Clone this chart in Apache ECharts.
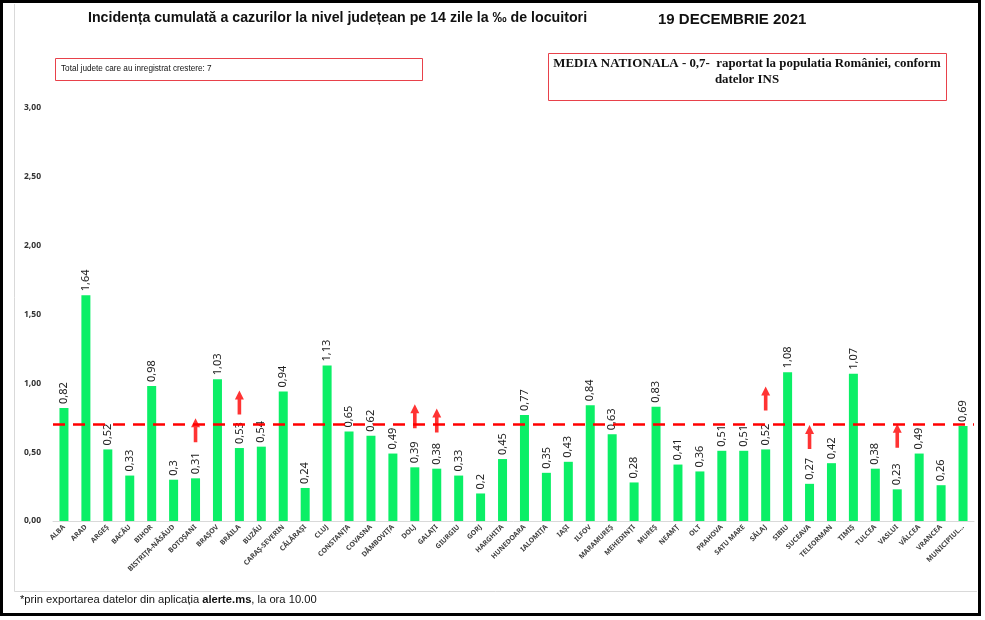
<!DOCTYPE html>
<html>
<head>
<meta charset="utf-8">
<script src="https://cdn.jsdelivr.net/npm/echarts@6/dist/echarts.min.js"></script>
<style>html,body{margin:0;padding:0;background:#fff;}#c{width:985px;height:620px;}</style>
</head>
<body>
<div id="c"></div>
<script>
const counties = ['ALBA','ARAD','ARGEȘ','BACĂU','BIHOR','BISTRIȚA-NĂSĂUD','BOTOȘANI','BRAȘOV','BRĂILA','BUZĂU','CARAȘ-SEVERIN','CĂLĂRAȘI','CLUJ','CONSTANȚA','COVASNA','DÂMBOVIȚA','DOLJ','GALAȚI','GIURGIU','GORJ','HARGHITA','HUNEDOARA','IALOMIȚA','IAȘI','ILFOV','MARAMUREȘ','MEHEDINȚI','MUREȘ','NEAMȚ','OLT','PRAHOVA','SATU MARE','SĂLAJ','SIBIU','SUCEAVA','TELEORMAN','TIMIȘ','TULCEA','VASLUI','VÂLCEA','VRANCEA','MUNICIPIUL...'];
const incidence = [0.82,1.64,0.52,0.33,0.98,0.3,0.31,1.03,0.53,0.54,0.94,0.24,1.13,0.65,0.62,0.49,0.39,0.38,0.33,0.2,0.45,0.77,0.35,0.43,0.84,0.63,0.28,0.83,0.41,0.36,0.51,0.51,0.52,1.08,0.27,0.42,1.07,0.38,0.23,0.49,0.26,0.69];
const nationalAverage = 0.7;
const arrowCounties = ['BOTOȘANI','BRĂILA','DOLJ','GALAȚI','SĂLAJ','SUCEAVA','VASLUI'];
const arrowLevels = [0.66,0.86,0.76,0.73,0.89,0.61,0.62];
const yTicks = {min:0, max:3, interval:0.5};

const fmt = v => String(v).replace('.', ',');
const chart = echarts.init(document.getElementById('c'), null, {renderer:'canvas'});
const arrowPath = 'path://M5,0 L10,9 L7,9 L7,24 L3,24 L3,9 L0,9 Z';
const sans = 'Liberation Sans, Arial, sans-serif';
chart.setOption({
  animation:false,
  backgroundColor:'#fff',
  grid:{left:53, right:11, top:108, bottom:99},
  xAxis:{
    type:'category', data:counties,
    axisLine:{lineStyle:{color:'#d9d9d9'}},
    axisTick:{show:false},
    axisLabel:{interval:0, rotate:45, fontSize:7, fontWeight:'bold', color:'#404040', margin:5, fontFamily:'Noto Sans'}
  },
  yAxis:{
    type:'value', min:yTicks.min, max:yTicks.max, interval:yTicks.interval,
    splitLine:{show:false}, axisLine:{show:false}, axisTick:{show:false},
    axisLabel:{formatter:v=>v.toFixed(2).replace('.',','), fontSize:8.5, fontWeight:'bold', color:'#333', margin:12, fontFamily:'Noto Sans'}
  },
  series:[
    {
      type:'bar', data:incidence, barWidth:9,
      itemStyle:{color:'#0BEF66'},
      label:{show:true, position:'top', rotate:90, align:'left', verticalAlign:'middle', distance:4,
        fontSize:11, color:'#222', fontFamily:'Noto Sans', formatter:p=>fmt(p.value)},
      markLine:{silent:true, symbol:'none', label:{show:false},
        lineStyle:{color:'#FF0000', type:[12,8], width:2.5},
        data:[{yAxis:nationalAverage}]},
      z:2
    },
    {
      type:'scatter', data:arrowCounties.map((c,i)=>[c, arrowLevels[i]]),
      symbol:arrowPath, symbolSize:[9,24], itemStyle:{color:'#FF0000'}, z:5, silent:true
    }
  ],
  graphic:[
    {type:'rect', shape:{x:1.5,y:1.5,width:978,height:613}, style:{fill:'none', stroke:'#000', lineWidth:3}, z:100},
    {type:'polyline', shape:{points:[[14.5,4],[14.5,591.5],[977,591.5]]}, style:{fill:'none', stroke:'#d9d9d9', lineWidth:1}},
    {type:'text', left:88, top:11, style:{text:'Incidența cumulată a cazurilor la nivel județean pe 14 zile la ‰ de locuitori', fontSize:14.2, fontWeight:'bold', fill:'#111', fontFamily:sans}},
    {type:'text', left:658, top:12, style:{text:'19 DECEMBRIE 2021', fontSize:15, fontWeight:'bold', fill:'#111', fontFamily:sans}},
    {type:'rect', shape:{x:55.5,y:58.5,width:367,height:22}, style:{fill:'none', stroke:'#E8414A', lineWidth:1}},
    {type:'text', left:61, top:65, style:{text:'Total judete care au inregistrat crestere: 7', fontSize:8.2, fill:'#111', fontFamily:sans}},
    {type:'rect', shape:{x:548.5,y:53.5,width:398,height:47}, style:{fill:'none', stroke:'#E8414A', lineWidth:1}},
    {type:'text', x:747, y:56, style:{text:'MEDIA NATIONALA - 0,7-  raportat la populatia României, conform\ndatelor INS', align:'center', lineHeight:16, fontSize:12.9, fontWeight:'bold', fill:'#111', fontFamily:'Liberation Serif, Times New Roman, serif'}},
    {type:'text', left:20, top:594, style:{text:'{n|*prin exportarea datelor din aplicația }{b|alerte.ms}{n|, la ora 10.00}', rich:{n:{fontSize:11.2, fill:'#111', fontFamily:sans}, b:{fontSize:11.2, fontWeight:'bold', fill:'#111', fontFamily:sans}}}}
  ]
});
</script>
</body>
</html>
